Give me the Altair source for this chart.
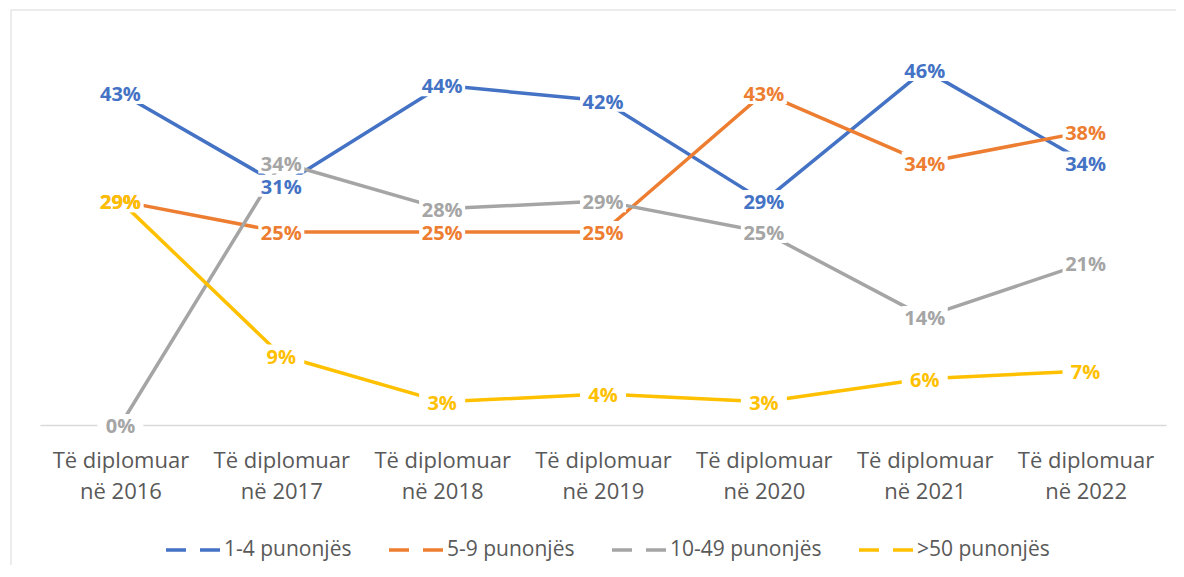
import altair as alt
import pandas as pd

years = ["2016", "2017", "2018", "2019", "2020", "2021", "2022"]
series = ["1-4 punonjës", "5-9 punonjës", "10-49 punonjës", ">50 punonjës"]
colors = ["#4472C4", "#ED7D31", "#A5A5A5", "#FFC000"]
v_1_4 = [43, 31, 44, 42, 29, 46, 34]
v_5_9 = [29, 25, 25, 25, 43, 34, 38]
v_10_49 = [0, 34, 28, 29, 25, 14, 21]
v_50 = [29, 9, 3, 4, 3, 6, 7]
label_line1 = "Të diplomuar"
label_prefix2 = "në "

rows = []
for s, vals in zip(series, [v_1_4, v_5_9, v_10_49, v_50]):
    for yr, v in zip(years, vals):
        rows.append({"year": yr, "series": s, "value": v, "label": f"{v}%"})
df = pd.DataFrame(rows)

x_enc = alt.X(
    "year:N",
    sort=years,
    title=None,
    axis=alt.Axis(
        labelAngle=0,
        ticks=False,
        domainColor="#D9D9D9",
        domainWidth=1.5,
        labelColor="#595959",
        labelFont="Open Sans",
        labelFontSize=22,
        labelLineHeight=31,
        labelPadding=25,
        labelExpr=f"['{label_line1}', '{label_prefix2}' + datum.label]",
    ),
)
y_enc = alt.Y("value:Q", scale=alt.Scale(domain=[0, 50]), axis=None)

base = alt.Chart(df)

lines = base.mark_line(strokeWidth=3.5, strokeCap="butt", strokeJoin="round").encode(
    x=x_enc,
    y=y_enc,
    color=alt.Color(
        "series:N",
        sort=series,
        scale=alt.Scale(domain=series, range=colors),
        legend=alt.Legend(
            orient="none",
            legendX=124,
            legendY=482,
            direction="horizontal",
            title=None,
            symbolType="stroke",
            symbolSize=2916,
            symbolStrokeWidth=3.5,
            symbolDash=[20, 14],
            labelFont="Open Sans",
            labelFontSize=21,
            labelColor="#595959",
            labelOffset=2,
            columnPadding=30,
            labelLimit=300,
        ),
    ),
    detail="series:N",
)

boxes = base.mark_point(
    shape="M-1,-0.48L1,-0.48L1,0.48L-1,0.48Z",
    size=2116,
    filled=True,
    fill="white",
    opacity=1,
    strokeWidth=0,
).encode(x=x_enc, y=y_enc)

texts = base.mark_text(
    font="Open Sans", fontWeight="bold", fontSize=20, baseline="middle", dy=2
).encode(
    x=x_enc,
    y=y_enc,
    text="label:N",
    color=alt.Color(
        "series:N", scale=alt.Scale(domain=series, range=colors), legend=None
    ),
)

frame = alt.Chart(pd.DataFrame({"a": [0]})).mark_rect(
    fillOpacity=0, stroke="#D9D9D9", strokeWidth=1
).encode(
    x=alt.value(-29), x2=alt.value(1400), y=alt.value(-29), y2=alt.value(800)
)

chart = (
    alt.layer(frame, lines, boxes, texts)
    .resolve_scale(color="independent")
    .properties(
        width=1126,
        height=386,
        autosize=alt.AutoSizeParams(type="none"),
        padding={"left": 32, "top": 31, "right": 10, "bottom": 140},
    )
    .configure_view(strokeWidth=0)
)

chart.save("out.html", embed_options={"renderer": "svg", "actions": False})
